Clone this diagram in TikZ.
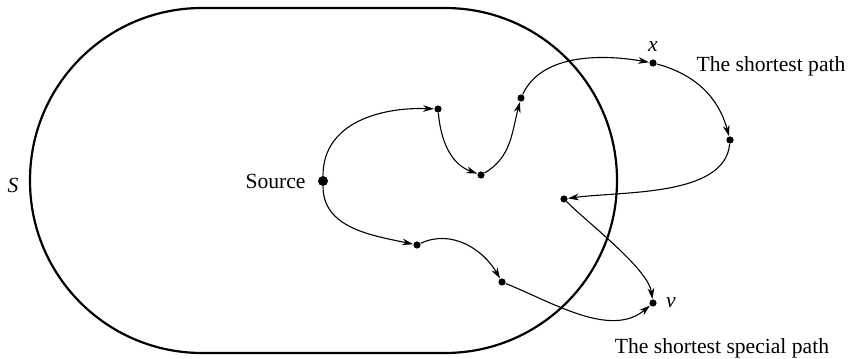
\documentclass[tikz,border=0pt]{standalone}
\usepackage{fontspec}
\setmainfont{Liberation Serif}
\usetikzlibrary{arrows.meta,positioning}
\tikzset{
  vtx/.style={circle,fill,inner sep=0pt,minimum size=3.6pt},
  path/.style={line width=0.55pt,-{Stealth[length=5.5pt,width=3.4pt]}},
  every node/.append style={font=\fontsize{10.8}{13}\selectfont}
}
\begin{document}
\begin{tikzpicture}[x=0.5pt,y=0.5pt]
\useasboundingbox (0,0) rectangle (848,359);
   \draw[line width=1.1pt,rounded corners=86pt] (30,6) rectangle (617,351);
   \node at (13,174) (S) {\textit{S}};

   \node[vtx,minimum size=5pt] at (323,178) (src) {};
   \node[left=2.5pt of src] (srclabel) {Source};
   \node[vtx] at (438,250) (a) {};
   \node[vtx] at (481,184) (b) {};
   \node[vtx] at (521,261) (c) {};
   \node[vtx] at (653,296) (x) {};
   \node[vtx] at (730,219) (d) {};
   \node[vtx] at (564,160) (e) {};
   \node[vtx] at (653,56)  (v) {};
   \node[vtx] at (417,114) (f) {};
   \node[vtx] at (502,77)  (g) {};

   \node[above=0pt of x] (xlabel) {\textit{x}};
   \node[right=1pt of v] (vlabel) {\textit{v}};
   \node at (771,293) (short) {The shortest path};
   \node at (722,11) (special) {The shortest special path};

    \draw[path] (src) to[out=90,in=178,looseness=1.05] (a);
    \draw[path] (a) to[out=-85,in=160] (b);
    \draw[path] (b) to[out=30,in=-105] (c);
    \draw[path] (c) to[out=65,in=170,looseness=0.9] (x);
    \draw[path] (x) to[out=-15,in=105] (d);
    \draw[path] (d) to[out=-95,in=8,looseness=0.8] (e);
    \draw[path] (e) to[out=-45,in=98,looseness=0.6] (v);

    \draw[path] (src) to[out=-90,in=168] (f);
    \draw[path] (f) to[out=25,in=120] (g);
    \draw[path] (g) to[out=-22,in=-140,looseness=0.9] (v);
\end{tikzpicture}
\end{document}
